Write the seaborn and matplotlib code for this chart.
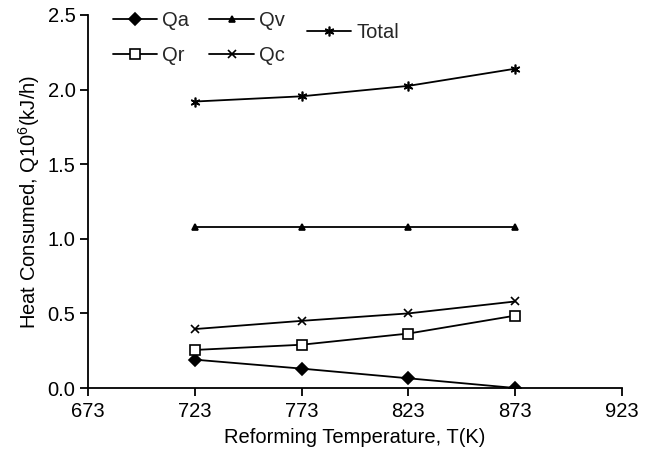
import matplotlib
matplotlib.use("Agg")
import matplotlib.pyplot as plt
import seaborn as sns
import pandas as pd

# Reforming temperature (K) and heat consumed (10^6 kJ/h)
temperature = [723, 773, 823, 873]
qa = [0.19, 0.13, 0.065, 0.0]
qr = [0.255, 0.29, 0.365, 0.485]
qv = [1.08, 1.08, 1.08, 1.08]
qc = [0.395, 0.45, 0.50, 0.58]
total = [1.92, 1.955, 2.025, 2.14]

series_names = ["Qa", "Qr", "Qv", "Qc", "Total"]
series_values = [qa, qr, qv, qc, total]

x_ticks = [673, 723, 773, 823, 873, 923]
y_ticks = [0.0, 0.5, 1.0, 1.5, 2.0, 2.5]

sns.set_theme(style="ticks")
plt.rcParams["font.family"] = ["Liberation Sans", "DejaVu Sans"]
plt.rcParams["mathtext.default"] = "regular"

FS = 14.5

frames = [pd.DataFrame({"T": temperature, "Q": vals, "series": name})
          for name, vals in zip(series_names, series_values)]
df = pd.concat(frames, ignore_index=True)

fig = plt.figure(figsize=(6.56, 4.5), dpi=100)
ax = fig.add_axes([88 / 656, 1 - 388 / 450, (622 - 88) / 656, (388 - 15) / 450])

styles = {
    "Qa": dict(marker="D", ms=6, mfc="black"),
    "Qr": dict(marker="s", ms=7, mfc="white"),
    "Qv": dict(marker="^", ms=5, mfc="black"),
    "Qc": dict(marker="x", ms=6, mfc="black"),
    "Total": dict(marker=(6, 2, 0), ms=7, mfc="black"),
}

handles = {}
for name in series_names:
    sub = df[df["series"] == name]
    sns.lineplot(data=sub, x="T", y="Q", ax=ax, color="black", linewidth=1.3,
                 markeredgecolor="black", markeredgewidth=1.2, label=name,
                 **styles[name])
h, l = ax.get_legend_handles_labels()
for hh, ll in zip(h, l):
    handles[ll] = hh
ax.get_legend().remove()

ax.set_xlim(673, 923)
ax.set_ylim(0, 2.5)
ax.set_xticks(x_ticks)
ax.set_yticks(y_ticks)
ax.set_yticklabels([f"{v:.1f}" for v in y_ticks])
ax.tick_params(axis="both", labelsize=FS, length=6, width=1.3, color="black",
               labelcolor="black", direction="out")
ax.tick_params(axis="x", pad=4)
ax.tick_params(axis="y", pad=3)
for side in ["left", "bottom"]:
    ax.spines[side].set_linewidth(1.3)
    ax.spines[side].set_color("black")
sns.despine(ax=ax)

ax.set_xlabel("Reforming Temperature, T(K)", fontsize=FS, color="black", labelpad=5)
ax.set_ylabel("Heat Consumed, Q10$^{6}$(kJ/h)", fontsize=FS, color="black", labelpad=4)

leg_kw = dict(frameon=False, fontsize=FS, handlelength=2.2, handletextpad=0.25,
              borderpad=0, borderaxespad=0)
leg1 = fig.legend([handles[n] for n in ["Qa", "Qr", "Qv", "Qc"]],
                  ["Qa", "Qr", "Qv", "Qc"], ncol=2, loc="upper left",
                  bbox_to_anchor=(113 / 656, 1 - 11 / 450), labelspacing=0.8,
                  columnspacing=1.0, **leg_kw)
leg2 = fig.legend([handles["Total"]], ["Total"], loc="upper left",
                  bbox_to_anchor=(307 / 656, 1 - 23 / 450), **leg_kw)

fig.savefig("out.png", dpi=100, facecolor="white")
